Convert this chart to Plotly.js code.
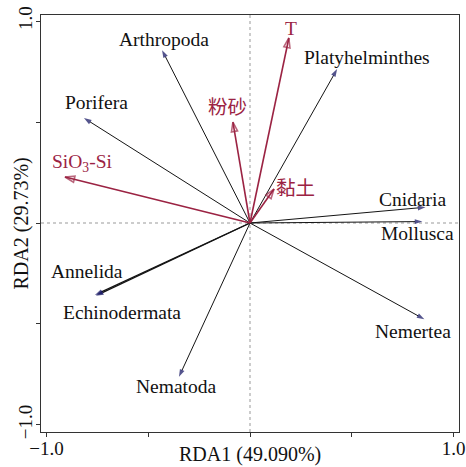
<!DOCTYPE html>
<html>
<head>
<meta charset="utf-8">
<script src="https://cdn.plot.ly/plotly-3.0.1.min.js"></script>
<style>html,body{margin:0;padding:0;background:#fff;}#chart{width:466px;height:467px;}</style>
</head>
<body>
<div id="chart"></div>
<script>
// Species scores (RDA1, RDA2)
const speciesNames = ["Arthropoda", "Platyhelminthes", "Porifera", "Cnidaria", "Mollusca", "Nemertea", "Nematoda", "Annelida", "Echinodermata"];
const speciesRDA1  = [-0.432, 0.428, -0.816, 0.862, 0.847, 0.857, -0.349, -0.762, -0.757];
const speciesRDA2  = [ 0.856, 0.762,  0.520, 0.078, 0.007, -0.477, -0.762, -0.356, -0.360];

// Environmental factors (RDA1, RDA2)
const envNames = ["T", "粉砂", "SiO<sub>3</sub>-Si", "黏土"];
const envRDA1  = [0.191, -0.084, -0.909, 0.118];
const envRDA2  = [0.916,  0.500,  0.228, 0.168];

// Axis ticks
const labelTickVals = [-1, 1];
const labelTickText = ["\u22121.0", "1.0"];
const minorTickVals = [-0.5, 0, 0.5];
const axisTitles = ["RDA1 (49.090%)", "RDA2 (29.73%)"];

// label offsets in pixels relative to arrow tip (layout only)
const speciesLabelShift = [[2,11],[30,12],[13,15],[-13,8],[-5,-12],[-11,-12],[-3,-10],[-8,23],[26,-17]];
const envLabelShift = [[2,10],[-5,15],[17,14],[21,1]];

const FONT = "'Liberation Serif', 'Times New Roman', 'Noto Sans CJK SC', serif";
const RED = "#9b2343";
const LINE = "#141414";
const HEAD = "#0b0b5c";

const traces = [];
const annotations = [];

speciesNames.forEach((n, i) => {
  traces.push({
    type: "scatter", mode: "lines+markers",
    x: [0, speciesRDA1[i]], y: [0, speciesRDA2[i]],
    line: {color: LINE, width: (n === "Annelida" || n === "Echinodermata") ? 1.2 : 1},
    marker: {symbol: "arrow", size: [0, 8], angleref: "previous", color: HEAD, line: {width: 0}},
    hoverinfo: "skip", showlegend: false
  });
  annotations.push({
    x: speciesRDA1[i], y: speciesRDA2[i], xref: "x", yref: "y",
    text: n, showarrow: false,
    xshift: speciesLabelShift[i][0], yshift: speciesLabelShift[i][1],
    font: {family: FONT, size: 19.5, color: "#111"}
  });
});

envNames.forEach((n, i) => {
  traces.push({
    type: "scatter", mode: "lines+markers",
    x: [0, envRDA1[i]], y: [0, envRDA2[i]],
    line: {color: RED, width: 1.6},
    marker: {symbol: "arrow-open", size: [0, 10], angleref: "previous", color: RED, line: {width: 1.6, color: RED}},
    hoverinfo: "skip", showlegend: false
  });
  annotations.push({
    x: envRDA1[i], y: envRDA2[i], xref: "x", yref: "y",
    text: n, showarrow: false,
    xshift: envLabelShift[i][0], yshift: envLabelShift[i][1],
    font: {family: FONT, size: 19.5, color: RED}
  });
});

// axis titles
annotations.push({
  xref: "paper", yref: "paper", x: 0.5, y: -0.084, xanchor: "center", yanchor: "bottom",
  borderpad: 0,
  text: axisTitles[0], showarrow: false, font: {family: FONT, size: 20, color: "#111"}
});
annotations.push({
  xref: "paper", yref: "paper", x: -0.0455, y: 0.5, xanchor: "center", yanchor: "middle",
  text: axisTitles[1], textangle: -90, showarrow: false, font: {family: FONT, size: 20, color: "#111"}
});

const axisCommon = {
  tickmode: "array", tickvals: labelTickVals, ticktext: labelTickText,
  ticks: "outside", ticklen: 4, tickwidth: 1, tickcolor: "#333",
  minor: {tickmode: "array", tickvals: minorTickVals, ticks: "outside", ticklen: 4, tickwidth: 1, tickcolor: "#333", showgrid: false},
  showline: true, mirror: true, linecolor: "#333", linewidth: 1,
  showgrid: false, zeroline: false,
  tickfont: {family: FONT, size: 19, color: "#111"}
};

const layout = {
  width: 466, height: 467,
  margin: {l: 41, r: 7, t: 15, b: 35},
  paper_bgcolor: "#fff", plot_bgcolor: "#fff",
  font: {family: FONT},
  xaxis: Object.assign({}, axisCommon, {
    range: [-1.027, 1.027], ticklabelstandoff: -5
  }),
  yaxis: Object.assign({}, axisCommon, {
    range: [-1.035, 1.03], tickangle: -90, ticklabelstandoff: -4
  }),
  shapes: [
    {type: "line", xref: "x", yref: "paper", x0: 0, x1: 0, y0: 0, y1: 1, line: {color: "#999", width: 1, dash: "dot"}, layer: "below"},
    {type: "line", xref: "paper", yref: "y", x0: 0, x1: 1, y0: 0, y1: 0, line: {color: "#999", width: 1, dash: "dot"}, layer: "below"}
  ],
  annotations: annotations
};

Plotly.newPlot("chart", traces, layout, {displayModeBar: false, staticPlot: true});
</script>
</body>
</html>
